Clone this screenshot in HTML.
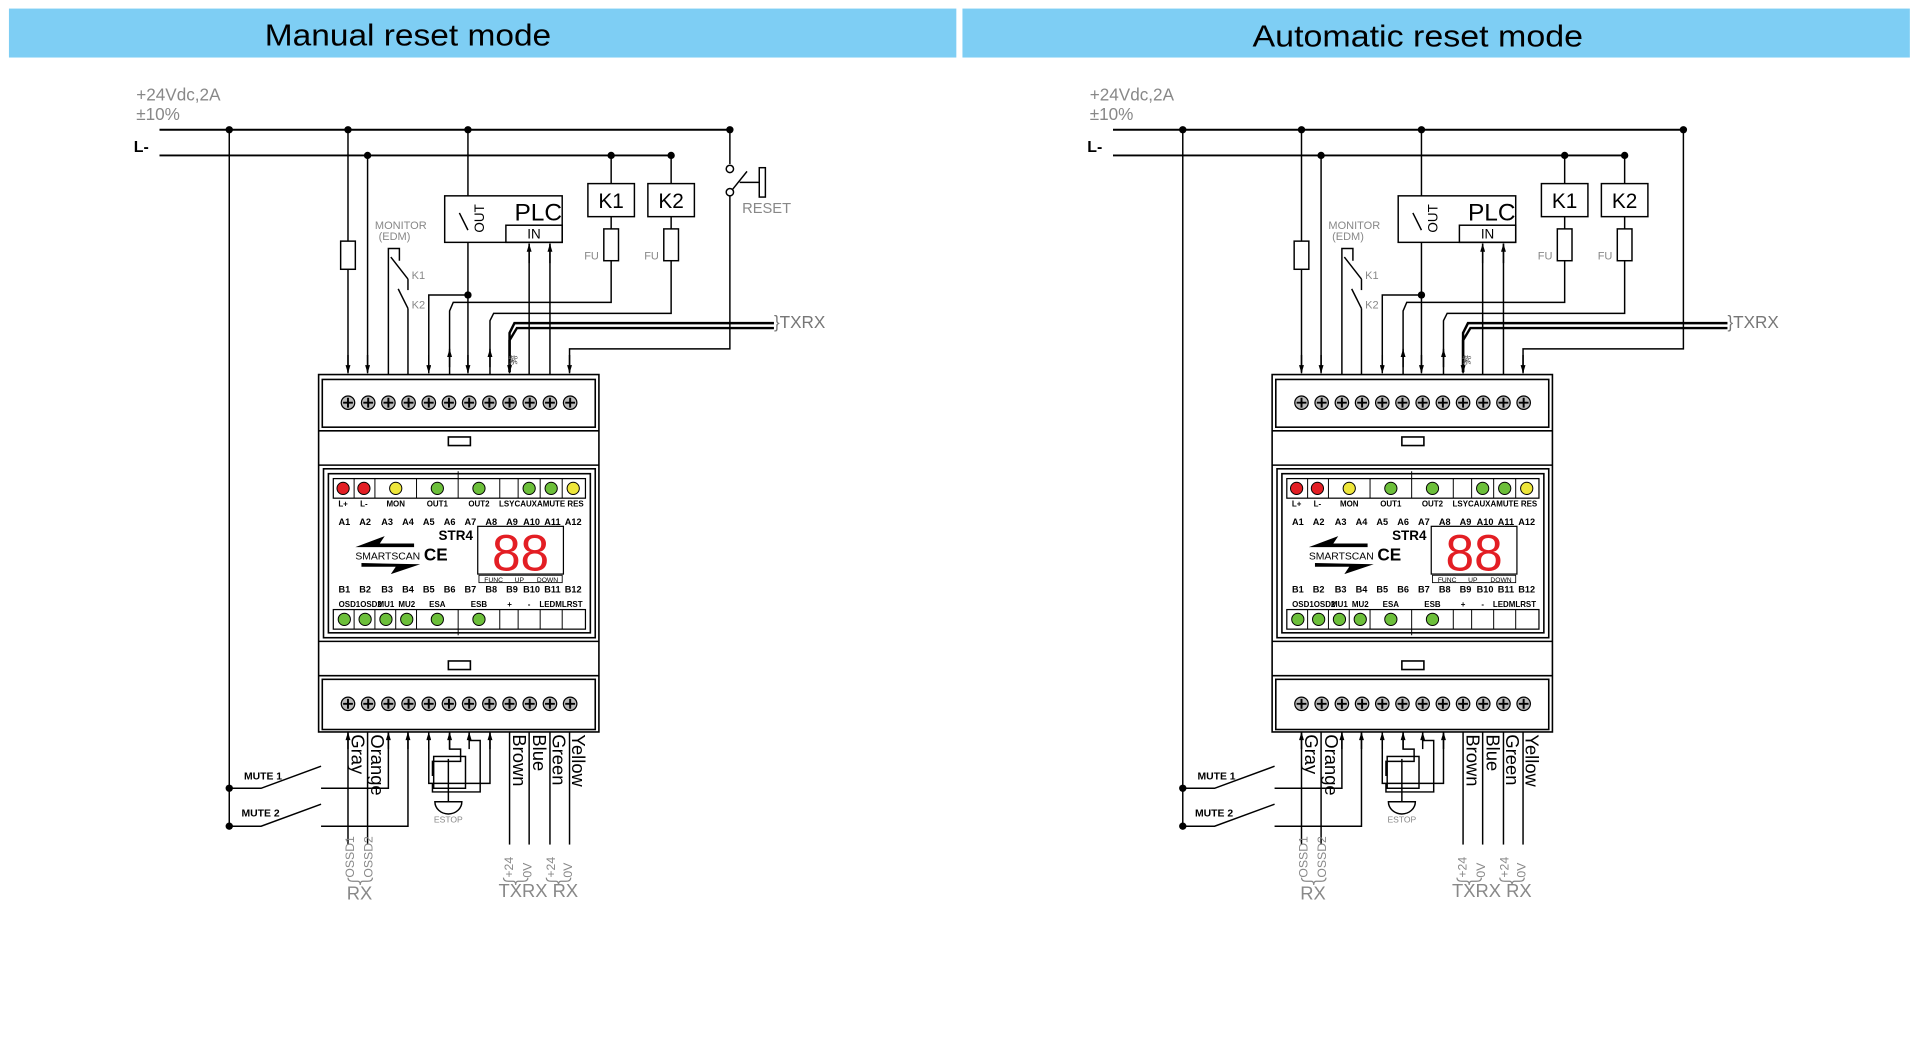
<!DOCTYPE html>
<html><head><meta charset="utf-8"><style>
html,body{margin:0;padding:0;background:#fff;}
svg{display:block;}
text{font-family:"Liberation Sans",sans-serif;}
</style></head><body>
<svg width="1920" height="1060" viewBox="0 0 1568 866" xmlns="http://www.w3.org/2000/svg">
<defs>
<marker id="ad" viewBox="0 0 10 6" refX="10" refY="3" markerWidth="7" markerHeight="4" orient="auto" markerUnits="userSpaceOnUse"><path d="M0,0 L10,3 L0,6 Z" fill="#000"/></marker>
<g id="panel">
 <text x="111" y="82" font-size="14" fill="#888">+24Vdc,2A</text>
 <text x="111" y="98" font-size="14" fill="#888">±10%</text>
 <text x="109" y="124" font-size="13" font-weight="bold">L-</text>
 <g stroke="#000" stroke-width="1.2" fill="none">
  <line x1="130" y1="106" x2="596" y2="106" stroke-width="1.6"/>
  <line x1="130" y1="127" x2="548" y2="127" stroke-width="1.6"/>
  <line x1="187" y1="106" x2="187" y2="675"/>
  <line x1="284" y1="106" x2="284" y2="304"/>
  <rect x="278" y="197" width="12" height="23" fill="#fff"/>
  <line x1="300" y1="127" x2="300" y2="304"/>
  <polyline points="317,306 317,203 326,203 326,213"/>
  <line x1="319" y1="210" x2="333" y2="228"/>
  <line x1="333" y1="228" x2="333" y2="237"/>
  <line x1="325" y1="236" x2="333" y2="252"/>
  <line x1="333" y1="252" x2="333" y2="306"/>
  <polyline points="382,241 350,241 350,304"/>
  <line x1="382" y1="106" x2="382" y2="304"/>
  <polyline points="367,306 367,254 370,247 499,247 499,127"/>
  <polyline points="400,306 400,262 403,256 548,256 548,127"/>
  <rect x="480" y="150" width="38" height="27" fill="#fff"/>
  <rect x="529" y="150" width="38" height="27" fill="#fff"/>
  <rect x="493" y="187" width="12" height="26" fill="#fff"/>
  <rect x="542" y="187" width="12" height="26" fill="#fff"/>
  <polyline points="416,304 416,272 420,264 632,264" stroke-width="2"/>
  <polyline points="416,304 416,278 422,268 632,268" stroke-width="2"/>
  <polyline points="596,106 596,285 465,285 465,304"/>
  <rect x="363" y="160" width="96" height="38" fill="#fff"/>
  <rect x="413" y="184" width="46" height="14"/>
  <line x1="432" y1="306" x2="432" y2="199"/>
  <line x1="449" y1="306" x2="449" y2="199"/>
  <line x1="375" y1="174" x2="382" y2="188"/>
 </g>
 <g stroke="#000" stroke-width="1.2">
  <line x1="284" y1="290" x2="284" y2="305" marker-end="url(#ad)"/>
  <line x1="300" y1="290" x2="300" y2="305" marker-end="url(#ad)"/>
  <line x1="350" y1="290" x2="350" y2="305" marker-end="url(#ad)"/>
  <line x1="382" y1="290" x2="382" y2="305" marker-end="url(#ad)"/>
  <line x1="416" y1="290" x2="416" y2="305" marker-end="url(#ad)"/>
  <line x1="465" y1="290" x2="465" y2="305" marker-end="url(#ad)"/>
  <line x1="367" y1="300" x2="367" y2="285" marker-end="url(#ad)"/>
  <line x1="400" y1="300" x2="400" y2="285" marker-end="url(#ad)"/>
  <line x1="432" y1="215" x2="432" y2="199" marker-end="url(#ad)"/>
  <line x1="449" y1="215" x2="449" y2="199" marker-end="url(#ad)"/>
 </g>
 <g fill="#000">
  <circle cx="187" cy="106" r="3"/><circle cx="284" cy="106" r="3"/><circle cx="382" cy="106" r="3"/><circle cx="596" cy="106" r="3"/>
  <circle cx="300" cy="127" r="3"/><circle cx="499" cy="127" r="3"/><circle cx="548" cy="127" r="3"/>
  <circle cx="382" cy="241" r="3"/><circle cx="187" cy="644" r="3"/><circle cx="187" cy="675" r="3"/>
 </g>
 <text x="306" y="187" font-size="9" fill="#888">MONITOR</text>
 <text x="309" y="196" font-size="9" fill="#888">(EDM)</text>
 <text x="336" y="228" font-size="9" fill="#888">K1</text>
 <text x="336" y="252" font-size="9" fill="#888">K2</text>
 <text x="420" y="180" font-size="20">PLC</text>
 <text x="436" y="195" font-size="11" text-anchor="middle">IN</text>
 <text transform="translate(395,190) rotate(-90)" font-size="11">OUT</text>
 <text x="499" y="170" font-size="17" text-anchor="middle">K1</text>
 <text x="548" y="170" font-size="17" text-anchor="middle">K2</text>
 <text x="477" y="212" font-size="9" fill="#888">FU</text>
 <text x="526" y="212" font-size="9" fill="#888">FU</text>
 <text x="415" y="297" font-size="8" fill="#555">紫</text>
 <text x="632" y="268" font-size="14" fill="#777">}TXRX</text>
 <g stroke="#000" stroke-width="1.3" fill="#fff">
  <rect x="260" y="306" width="229" height="292"/>
  <rect x="263" y="310" width="223" height="39"/>
  <line x1="260" y1="352" x2="489" y2="352"/>
  <rect x="366" y="357" width="18" height="7"/>
  <line x1="260" y1="380" x2="489" y2="380"/>
  <rect x="264" y="383" width="222" height="138"/>
  <rect x="268" y="387" width="214" height="130" fill="none"/>
  <line x1="260" y1="524" x2="489" y2="524"/>
  <rect x="366" y="540" width="18" height="7"/>
  <line x1="260" y1="552" x2="489" y2="552"/>
  <rect x="263" y="555" width="223" height="41"/>
  <rect x="272" y="391" width="206" height="16" fill="none" stroke-width="1"/>
  <rect x="272" y="498" width="206" height="16" fill="none" stroke-width="1"/>
 </g>
 <g stroke="#000" stroke-width="0.8">
  <line x1="289" y1="391" x2="289" y2="407"/><line x1="306" y1="391" x2="306" y2="407"/><line x1="340" y1="391" x2="340" y2="407"/><line x1="374" y1="385" x2="374" y2="407"/><line x1="408" y1="391" x2="408" y2="407"/><line x1="423" y1="391" x2="423" y2="407"/><line x1="441" y1="391" x2="441" y2="407"/><line x1="459" y1="391" x2="459" y2="407"/>
  <line x1="289" y1="498" x2="289" y2="514"/><line x1="306" y1="498" x2="306" y2="514"/><line x1="323" y1="498" x2="323" y2="514"/><line x1="340" y1="498" x2="340" y2="514"/><line x1="374" y1="498" x2="374" y2="519"/><line x1="408" y1="498" x2="408" y2="514"/><line x1="423" y1="498" x2="423" y2="514"/><line x1="441" y1="498" x2="441" y2="514"/><line x1="459" y1="498" x2="459" y2="514"/>
 </g>
 <g stroke="#000" stroke-width="0.8">
  <circle cx="280" cy="399" r="5" fill="#e31e24"/><circle cx="297" cy="399" r="5" fill="#e31e24"/><circle cx="323" cy="399" r="5" fill="#eee63a"/><circle cx="357" cy="399" r="5" fill="#6cbf3a"/><circle cx="391" cy="399" r="5" fill="#6cbf3a"/><circle cx="432" cy="399" r="5" fill="#6cbf3a"/><circle cx="450" cy="399" r="5" fill="#6cbf3a"/><circle cx="468" cy="399" r="5" fill="#eee63a"/>
  <circle cx="281" cy="506" r="5" fill="#6cbf3a"/><circle cx="298" cy="506" r="5" fill="#6cbf3a"/><circle cx="315" cy="506" r="5" fill="#6cbf3a"/><circle cx="332" cy="506" r="5" fill="#6cbf3a"/><circle cx="357" cy="506" r="5" fill="#6cbf3a"/><circle cx="391" cy="506" r="5" fill="#6cbf3a"/>
 </g>
 <g font-size="6.5" font-weight="bold" text-anchor="middle">
  <text x="280" y="414">L+</text><text x="297" y="414">L-</text><text x="323" y="414">MON</text><text x="357" y="414">OUT1</text><text x="391" y="414">OUT2</text><text x="442" y="414">LSYCAUXAMUTE RES</text>
  <text x="294" y="496">OSD1OSD2</text><text x="315" y="496">MU1</text><text x="332" y="496">MU2</text><text x="357" y="496">ESA</text><text x="391" y="496">ESB</text><text x="416" y="496">+</text><text x="432" y="496">-</text><text x="458" y="496">LEDMLRST</text>
 </g>
 <g font-size="7.5" font-weight="bold" text-anchor="middle">
  <text x="281" y="429">A1</text><text x="298" y="429">A2</text><text x="316" y="429">A3</text><text x="333" y="429">A4</text><text x="350" y="429">A5</text><text x="367" y="429">A6</text><text x="384" y="429">A7</text><text x="401" y="429">A8</text><text x="418" y="429">A9</text><text x="434" y="429">A10</text><text x="451" y="429">A11</text><text x="468" y="429">A12</text>
  <text x="281" y="484">B1</text><text x="298" y="484">B2</text><text x="316" y="484">B3</text><text x="333" y="484">B4</text><text x="350" y="484">B5</text><text x="367" y="484">B6</text><text x="384" y="484">B7</text><text x="401" y="484">B8</text><text x="418" y="484">B9</text><text x="434" y="484">B10</text><text x="451" y="484">B11</text><text x="468" y="484">B12</text>
 </g>
 <text x="358" y="441" font-size="11" font-weight="bold">STR4</text>
 <rect x="390" y="430" width="70" height="39" fill="#fff" stroke="#000"/>
 <text x="425" y="466" font-size="42" fill="#e31e24" text-anchor="middle">88</text>
 <rect x="391" y="470" width="68" height="6" fill="#fff" stroke="#000" stroke-width="0.7"/>
 <text x="403" y="475.5" font-size="5.5" text-anchor="middle">FUNC</text><text x="424" y="475.5" font-size="5.5" text-anchor="middle">UP</text><text x="447" y="475.5" font-size="5.5" text-anchor="middle">DOWN</text>
 <path d="M290,447 L314,438 L310,444 L338,444 L338,447 Z" fill="#000"/>
 <path d="M343,461 L319,469 L323,463 L295,463 L295,460 Z" fill="#000"/>
 <text x="290" y="457" font-size="8.5" font-family="Liberation Serif,serif" textLength="53">SMARTSCAN</text>
 <text x="346" y="458" font-size="14" font-weight="bold">CE</text>
 <g stroke="#000" stroke-width="1">
  <g fill="#bbb">
  <circle cx="284" cy="329" r="5.5"/><circle cx="300.5" cy="329" r="5.5"/><circle cx="317" cy="329" r="5.5"/><circle cx="333.5" cy="329" r="5.5"/><circle cx="350" cy="329" r="5.5"/><circle cx="366.5" cy="329" r="5.5"/><circle cx="383" cy="329" r="5.5"/><circle cx="399.5" cy="329" r="5.5"/><circle cx="416" cy="329" r="5.5"/><circle cx="432.5" cy="329" r="5.5"/><circle cx="449" cy="329" r="5.5"/><circle cx="465.5" cy="329" r="5.5"/>
  <circle cx="284" cy="575" r="5.5"/><circle cx="300.5" cy="575" r="5.5"/><circle cx="317" cy="575" r="5.5"/><circle cx="333.5" cy="575" r="5.5"/><circle cx="350" cy="575" r="5.5"/><circle cx="366.5" cy="575" r="5.5"/><circle cx="383" cy="575" r="5.5"/><circle cx="399.5" cy="575" r="5.5"/><circle cx="416" cy="575" r="5.5"/><circle cx="432.5" cy="575" r="5.5"/><circle cx="449" cy="575" r="5.5"/><circle cx="465.5" cy="575" r="5.5"/>
  </g>
  <path stroke-width="1.6" d="M280,329h8M284,325v8M296.5,329h8M300.5,325v8M313,329h8M317,325v8M329.5,329h8M333.5,325v8M346,329h8M350,325v8M362.5,329h8M366.5,325v8M379,329h8M383,325v8M395.5,329h8M399.5,325v8M412,329h8M416,325v8M428.5,329h8M432.5,325v8M445,329h8M449,325v8M461.5,329h8M465.5,325v8
  M280,575h8M284,571v8M296.5,575h8M300.5,571v8M313,575h8M317,571v8M329.5,575h8M333.5,571v8M346,575h8M350,571v8M362.5,575h8M366.5,571v8M379,575h8M383,571v8M395.5,575h8M399.5,571v8M412,575h8M416,571v8M428.5,575h8M432.5,571v8M445,575h8M449,571v8M461.5,575h8M465.5,571v8"/>
 </g>
 <g stroke="#000" stroke-width="1.2" fill="none">
  <line x1="284" y1="598" x2="284" y2="690"/>
  <line x1="300" y1="598" x2="300" y2="690"/>
  <polyline points="187,644 213,644 262,626"/>
  <polyline points="262,644 317,644 317,598"/>
  <polyline points="187,675 213,675 262,657"/>
  <polyline points="262,675 333,675 333,598"/>
  <polyline points="350,598 350,640 400,640 400,598"/>
  <polyline points="367,598 367,612 376,612 376,622 353,622 353,634"/>
  <polyline points="383,598 383,605 392,605 392,647 353,647 353,640"/>
  <rect x="354" y="618" width="26" height="26"/>
  <line x1="366" y1="620" x2="366" y2="655"/>
  <path d="M355,655 A11,10 0 0 0 377,655 Z" fill="#fff"/>
  <line x1="416" y1="598" x2="416" y2="690"/>
  <line x1="432" y1="598" x2="432" y2="690"/>
  <line x1="449" y1="598" x2="449" y2="690"/>
  <line x1="465" y1="598" x2="465" y2="690"/>
 </g>
 <g stroke="#000" stroke-width="1.2">
  <line x1="284" y1="612" x2="284" y2="598" marker-end="url(#ad)"/>
  <line x1="317" y1="612" x2="317" y2="598" marker-end="url(#ad)"/>
  <line x1="333" y1="612" x2="333" y2="598" marker-end="url(#ad)"/>
  <line x1="350" y1="612" x2="350" y2="598" marker-end="url(#ad)"/>
  <line x1="367" y1="612" x2="367" y2="598" marker-end="url(#ad)"/>
  <line x1="383" y1="612" x2="383" y2="598" marker-end="url(#ad)"/>
  <line x1="400" y1="612" x2="400" y2="598" marker-end="url(#ad)"/>
 </g>
 <text x="199" y="637" font-size="8.5" font-weight="bold">MUTE 1</text>
 <text x="197" y="667" font-size="8.5" font-weight="bold">MUTE 2</text>
 <text x="366" y="672" font-size="7" fill="#888" text-anchor="middle">ESTOP</text>
 <g font-size="15">
  <text transform="translate(287,600) rotate(90)">Gray</text>
  <text transform="translate(303,600) rotate(90)">Orange</text>
  <text transform="translate(419,600) rotate(90)">Brown</text>
  <text transform="translate(435,600) rotate(90)">Blue</text>
  <text transform="translate(451,600) rotate(90)">Green</text>
  <text transform="translate(467,600) rotate(90)">Yellow</text>
 </g>
 <g font-size="10" fill="#888">
  <text transform="translate(289,717) rotate(-90)">OSSD1</text>
  <text transform="translate(304,717) rotate(-90)">OSSD2</text>
  <text transform="translate(419,717) rotate(-90)">+24</text>
  <text transform="translate(434,717) rotate(-90)">0V</text>
  <text transform="translate(453,717) rotate(-90)">+24</text>
  <text transform="translate(467,717) rotate(-90)">0V</text>
 </g>
 <g stroke="#888" fill="none" stroke-width="1">
  <path d="M284,717 q0,3 4,3 h4 q2,0 2,3 q0,-3 2,-3 h4 q4,0 4,-3"/>
  <path d="M411,717 q0,3 4,3 h4 q2,0 2,3 q0,-3 2,-3 h4 q4,0 4,-3"/>
  <path d="M446,717 q0,3 4,3 h4 q2,0 2,3 q0,-3 2,-3 h4 q4,0 4,-3"/>
 </g>
 <text x="283" y="735" font-size="15" fill="#888">RX</text>
 <text x="407" y="733" font-size="15" fill="#888">TXRX RX</text>
</g>
</defs>
<rect x="7" y="7" width="774" height="40" fill="#7ecef4"/>
<rect x="786" y="7" width="774" height="40" fill="#7ecef4"/>
<text x="333" y="37" font-size="25" text-anchor="middle" textLength="234" lengthAdjust="spacingAndGlyphs">Manual reset mode</text>
<text x="1158" y="38" font-size="25" text-anchor="middle" textLength="270" lengthAdjust="spacingAndGlyphs">Automatic reset mode</text>
<use href="#panel"/>
<use href="#panel" transform="translate(779,0)"/>
<rect x="590" y="134" width="12" height="26" fill="#fff"/>
<g stroke="#000" stroke-width="1.2" fill="#fff">
 <circle cx="596" cy="138" r="3"/><circle cx="596" cy="157" r="3"/>
 <line x1="598" y1="155" x2="610" y2="140"/>
 <line x1="604" y1="149" x2="620" y2="149"/>
 <rect x="620" y="137" width="5" height="24"/>
</g>
<text x="606" y="174" font-size="12" fill="#888">RESET</text>
</svg>
</body></html>
